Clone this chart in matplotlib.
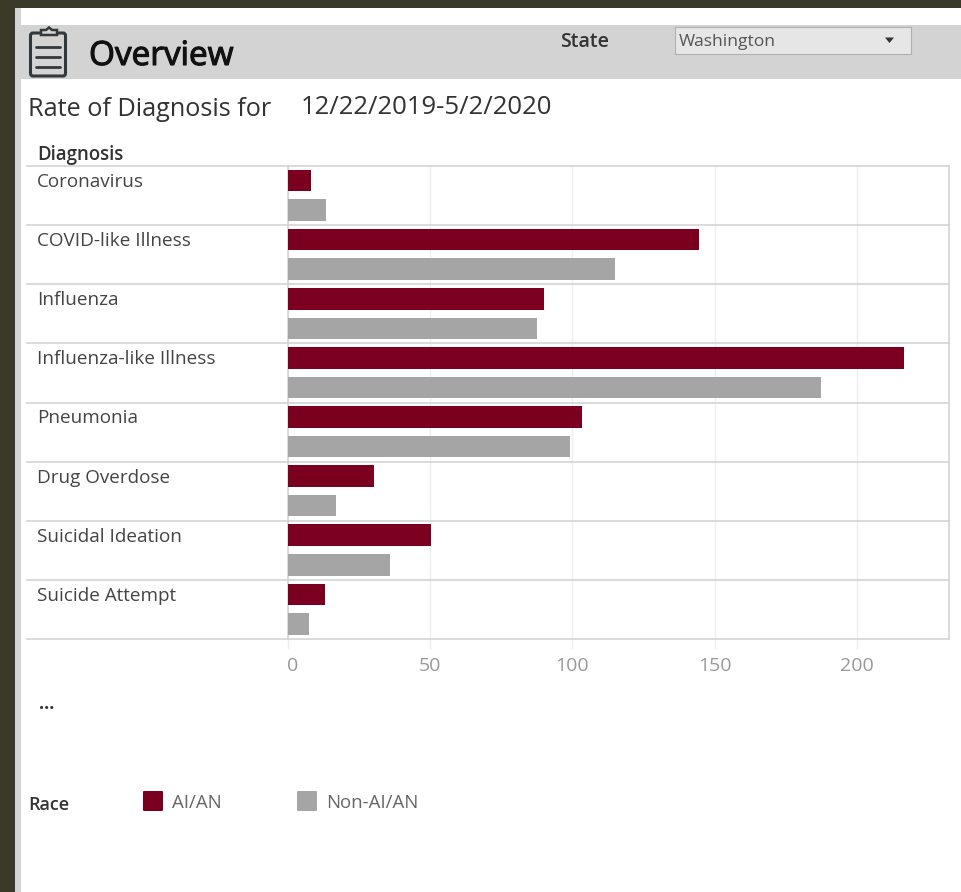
import matplotlib
matplotlib.use("Agg")
import matplotlib.pyplot as plt
import matplotlib.patheffects as pe
from matplotlib.patches import Rectangle, FancyBboxPatch, Polygon

plt.rcParams['font.family'] = ['Open Sans', 'DejaVu Sans']

diagnoses = ["Coronavirus", "COVID-like Illness", "Influenza", "Influenza-like Illness",
             "Pneumonia", "Drug Overdose", "Suicidal Ideation", "Suicide Attempt"]
ai_an = [8.2, 144.5, 90, 216.5, 103.4, 30.4, 50.4, 13]
non_ai_an = [13.5, 114.8, 87.7, 187.4, 99.2, 17, 36, 7.5]
x_ticks = [0, 50, 100, 150, 200]
legend_labels = ["AI/AN", "Non-AI/AN"]

RED = "#7b0020"
GREY = "#a5a5a5"
W, H = 961, 892
fig = plt.figure(figsize=(W / 100, H / 100), dpi=100, facecolor="white")

# page furniture in pixel coordinates
bg = fig.add_axes([0, 0, 1, 1])
bg.set_xlim(0, W); bg.set_ylim(H, 0); bg.axis("off")
bg.add_patch(Rectangle((0, 0), 15, H, fc="#3b3a28", lw=0))
bg.add_patch(Rectangle((0, 0), W, 8, fc="#3b3a28", lw=0))
bg.add_patch(Rectangle((15, 8), 6, H, fc="#d4d4d4", lw=0))
bg.add_patch(Rectangle((21, 25), W, 54, fc="#d3d3d3", lw=0))

# clipboard icon
ic = "#33383b"
bg.add_patch(FancyBboxPatch((30.5, 33), 35, 43, boxstyle="round,pad=0,rounding_size=2.5", fc="none", ec=ic, lw=2.2))
bg.add_patch(Polygon([(41, 33), (41, 30), (46, 30), (49, 27.5), (52, 30), (57, 30), (57, 35), (41, 35)],
                     closed=True, fc="#d3d3d3", ec=ic, lw=1.8))
for y in (47, 57, 67):
    bg.plot([36, 60], [y, y], color=ic, lw=2.0, solid_capstyle="round")

bg.text(89, 56.5, "Overview", fontsize=24, color="#111111", va="center", ha="left",
        path_effects=[pe.withStroke(linewidth=0.8, foreground="#111111")])
bg.text(560, 42, "State", fontsize=14, fontweight="semibold", color="#333333", va="center", ha="left")
bg.add_patch(Rectangle((674.5, 26.5), 236, 27, fc="#e6e6e6", ec="#b0b0b0", lw=0.8))
bg.text(679, 41.5, "Washington", fontsize=12.6, color="#555555", va="center", ha="left")
bg.add_patch(Polygon([(885, 37.5), (894, 37.5), (889.5, 43)], closed=True, fc="#333333", lw=0))
bg.text(28, 109, "Rate of Diagnosis for", fontsize=18.2, color="#333333", va="center", ha="left")
bg.text(301, 108, "12/22/2019-5/2/2020", fontsize=18.5, color="#333333", va="center", ha="left")
bg.text(37, 155, "Diagnosis", fontsize=13.4, fontweight="semibold", color="#333333", va="center", ha="left")
bg.text(47, 704, "...", fontsize=13, fontweight="bold", color="#333333", va="center", ha="center")

# chart
left, right, top, bottom = 287.5, 948.5, 166, 639
ax = fig.add_axes([left / W, 1 - bottom / H, (right - left) / W, (bottom - top) / H])
ax.patch.set_alpha(0)
n = len(diagnoses)
y_red = [i + 0.245 for i in range(n)]
y_grey = [i + 0.745 for i in range(n)]
ax.barh(y_red, ai_an, height=0.365, color=RED, zorder=3)
ax.barh(y_grey, non_ai_an, height=0.365, color=GREY, zorder=3)
ax.set_xlim(0, 232)
ax.set_ylim(n, 0)
ax.set_yticks([])
ax.set_xticks(x_ticks)
ax.set_xticklabels([str(t) for t in x_ticks], fontsize=14, color="#999999")
ax.get_xticklabels()[0].set_ha("left")
ax.tick_params(axis="x", length=7, width=1, color="#efefef", pad=6)
ax.grid(axis="x", color="#efefef", lw=1, zorder=0)
ax.set_axisbelow(True)
for s in ("top", "bottom"):
    ax.spines[s].set_visible(False)
for s in ("left", "right"):
    ax.spines[s].set_color("#d4d4d4")
    ax.spines[s].set_linewidth(1.2)

# row separators run out over the label column
trans = ax.get_yaxis_transform()
label_x = (37 - left) / (right - left)
line_x = (27 - left) / (right - left)
for i in range(n + 1):
    ax.plot([line_x, 1], [i, i], transform=trans, color="#d4d4d4", lw=1.2, clip_on=False, zorder=2)
for i, name in enumerate(diagnoses):
    ax.text(label_x, i + 0.27, name, transform=trans, fontsize=13.6, color="#444444", va="center", ha="left")

# legend
bg.text(28, 805, "Race", fontsize=13, fontweight="semibold", color="#333333", va="center", ha="left")
for x0, c, lab in zip((143, 297), (RED, GREY), legend_labels):
    bg.add_patch(FancyBboxPatch((x0, 791), 20, 20, boxstyle="round,pad=0,rounding_size=1", fc=c, lw=0))
    bg.text(x0 + 29, 803.5, lab, fontsize=13.4, color="#666666", va="center", ha="left")

fig.savefig("out.png", dpi=100, facecolor="white")
